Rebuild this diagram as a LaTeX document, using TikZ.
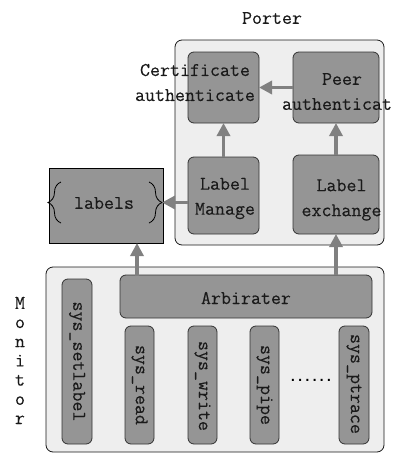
\documentclass[tikz,border=0pt]{standalone}
\usepackage{fontspec}
\newfontfamily\boxfont{Latin Modern Mono}[FakeBold=0.15]
\newfontfamily\dotfont{DejaVu Sans Mono}
\usetikzlibrary{arrows.meta,decorations.pathreplacing}
\definecolor{boxgray}{HTML}{959595}
\definecolor{panel}{HTML}{EEEEEE}
\definecolor{arrowgray}{HTML}{808080}
\definecolor{ink}{HTML}{1A1A1A}
\begin{document}
\begin{tikzpicture}[x=1pt,y=-1pt,
  txt/.style={font=\fontsize{19.4}{25}\selectfont\boxfont, inner sep=0pt, align=center, text=ink},
  vtxt/.style={txt, rotate=-90},
  panelbox/.style={draw=black!90, fill=panel, rounded corners=7pt, line width=0.8pt, inner sep=0pt, outer sep=0pt},
  graybox/.style={draw=black!80, fill=boxgray, rounded corners=6pt, line width=0.8pt, inner sep=0pt, outer sep=0pt},
  sqbox/.style={draw=black, fill=boxgray, line width=0.8pt, inner sep=0pt, outer sep=0pt},
  flow/.style={draw=arrowgray, line width=3.5pt, -{Triangle[width=13pt,length=13pt]}},
  bracepath/.style={draw=black, line width=0.8pt, decorate, decoration={brace, amplitude=13pt}}
]
\useasboundingbox (0,0) rectangle (392,453);
% containers
\node[panelbox, minimum width=209pt, minimum height=205pt] (porter) at (279.5,142.5) {};
\node[panelbox, minimum width=338pt, minimum height=185pt] (monitor) at (215,359.5) {};
% porter boxes
\node[graybox, minimum width=71pt, minimum height=71pt] (cert) at (223.5,87.5) {};
\node[graybox, minimum width=86pt, minimum height=71pt] (peer) at (336,87.5) {};
\node[graybox, minimum width=71pt, minimum height=77pt] (manage) at (223.5,195.5) {};
\node[graybox, minimum width=86pt, minimum height=79pt] (exchange) at (336,194.5) {};
% labels box
\node[sqbox, minimum width=114pt, minimum height=75pt] (labels) at (106,205.5) {};
% monitor boxes
\node[graybox, minimum width=252pt, minimum height=43pt] (arbirater) at (246,296.5) {};
\node[graybox, minimum width=30pt, minimum height=165pt] (setlabel) at (77,361.5) {};
\node[graybox, minimum width=29pt, minimum height=118pt] (read) at (139.5,385) {};
\node[graybox, minimum width=29pt, minimum height=118pt] (write) at (202.5,385) {};
\node[graybox, minimum width=29pt, minimum height=118pt] (pipe) at (264.5,385) {};
\node[graybox, minimum width=30pt, minimum height=118pt] (ptrace) at (354,385) {};
% texts
\node[txt] (portertxt) at (272,18) {Porter};
\node[txt] (certtxt) at (195,82.5) {Certificate\\authenticate};
\node[txt] (peertxt) at (342,91.5) {Peer\\authenticate};
\node[txt] (managetxt) at (225,198.5) {Label\\Manage};
\node[txt] (exchangetxt) at (341.5,200) {Label\\exchange};
\node[txt] (labelstxt) at (104,203) {labels};
\node[txt] (arbtxt) at (246,298) {Arbirater};
\node[vtxt] (setlabeltxt) at (77,361.5) {sys\_setlabel};
\node[vtxt] (readtxt) at (139.5,385) {sys\_read};
\node[vtxt] (writetxt) at (202.5,386) {sys\_write};
\node[vtxt] (pipetxt) at (264.5,385) {sys\_pipe};
\node[vtxt] (ptracetxt) at (354,384) {sys\_ptrace};
\node[txt, font=\fontsize{12}{14}\selectfont\dotfont\bfseries, text=black] (dots) at (311,380) {......};
\node[txt, font=\fontsize{19.4}{19.2}\selectfont\boxfont] (monitortxt) at (20,360.5) {M\\o\\n\\i\\t\\o\\r};
% braces
\coordinate (lbrbot) at (61,223);
\coordinate (lbrtop) at (61,182);
\coordinate (rbrtop) at (149,182);
\coordinate (rbrbot) at (149,223);
\coordinate (rbrtip) at (162,202.5);
\draw[bracepath] (lbrbot) -- (lbrtop);
\draw[bracepath] (rbrtop) -- (rbrbot);
% arrows
\draw[flow] (peer.west) -- (cert.east);
\draw[flow] (manage.north) -- (cert.south);
\draw[flow] (exchange.north) -- (peer.south);
\draw[flow] (manage.west |- rbrtip) -- (rbrtip);
\coordinate (arbleft) at (137,276);
\draw[flow] (arbleft) -- (arbleft |- labels.south);
\draw[flow] (arbirater.north -| exchange.south) -- (exchange.south);
\end{tikzpicture}
\end{document}
